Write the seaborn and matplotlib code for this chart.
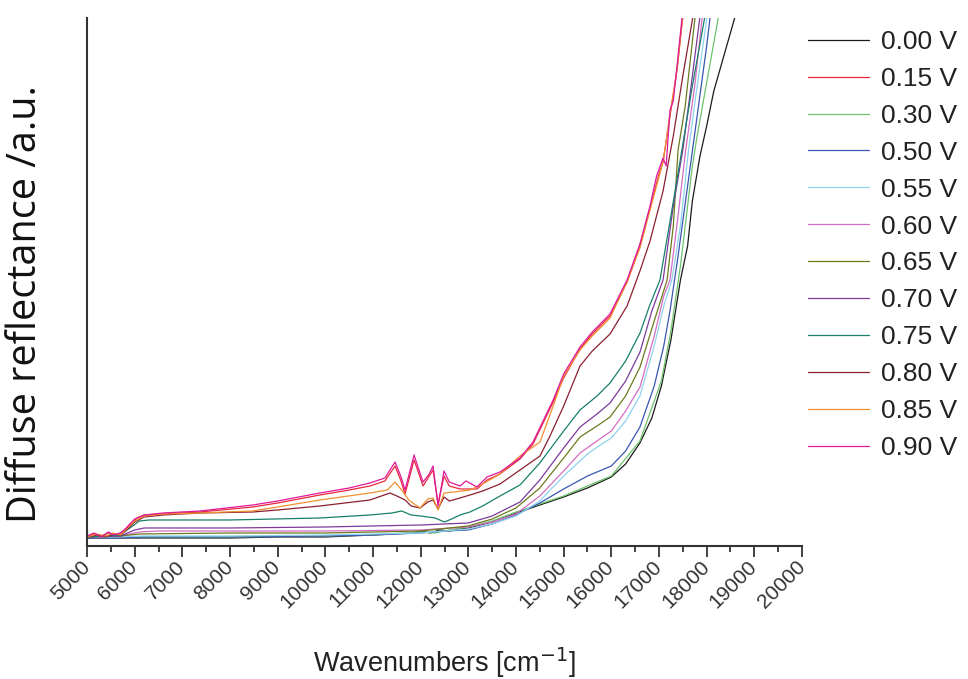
import matplotlib
matplotlib.use("Agg")
import matplotlib.pyplot as plt
import seaborn as sns
import pandas as pd
from matplotlib.ticker import MultipleLocator

# ---------------- data ----------------
labels = ["0.00 V", "0.15 V", "0.30 V", "0.50 V", "0.55 V", "0.60 V",
          "0.65 V", "0.70 V", "0.75 V", "0.80 V", "0.85 V", "0.90 V"]
colors = ["#1a1a1a", "#e8283c", "#6cc36c", "#3a56b0", "#8fd3ef", "#d46cc4",
          "#6b7a1e", "#7d3a9c", "#17806a", "#8b1f30", "#f09030", "#e0189a"]

wn_000 = [5000, 5300, 5600, 5900, 6200, 7000, 8000, 9000, 10000, 11000, 11800, 12000, 12200, 12400,
          12600, 12800, 13000, 13500, 14000, 14500, 15000, 15500, 16000, 16300, 16600, 16850, 17050,
          17250, 17450, 17600, 17700, 17860, 18000, 18150, 18300, 18450, 18600, 18700]
r_000 = [8, 8, 8, 8, 8, 8, 8, 9, 9, 11, 13, 15, 13, 16,
         15, 17, 18, 24, 33, 41, 49, 58, 69, 82, 103, 128, 160,
         206, 266, 300, 345, 390, 420, 455, 480, 505, 530, 560]

wn_015 = [5000, 5150, 5300, 5450, 5600, 5750, 5900, 6050, 6200, 6600, 7370, 8480, 9000, 9888, 10500,
          10937, 11250, 11462, 11580, 11672, 11861, 11950, 12050, 12180, 12260, 12365, 12490, 12600,
          12826, 13182, 13392, 13665, 14084, 14357, 14780, 15000, 15343, 15600, 15973, 16330, 16600,
          16812, 17000, 17085, 17231, 17378, 17483, 17580]
r_015 = [9, 12, 10, 13, 11, 14, 22, 28, 31, 32, 34, 39, 43, 51, 56,
         60, 65, 80, 66, 52, 86, 74, 60, 70, 76, 42, 70, 60,
         57, 57, 66, 72, 87, 102, 144, 168, 197, 212, 230, 264, 300,
         338, 372, 384, 430, 476, 522, 560]

wn_030 = [5000, 5600, 6200, 8000, 10000, 11000, 12000, 12300, 12600, 13000, 13500, 14000, 15000,
          16000, 16600, 17050, 17250, 17450, 17650, 17700, 17800, 17950, 18100, 18250, 18350]
r_030 = [9, 9, 9, 9, 10, 11, 14, 13, 16, 19, 25, 34, 50,
         70, 105, 165, 215, 280, 360, 380, 410, 450, 490, 530, 560]

wn_050 = [5000, 5600, 6200, 8000, 10000, 11000, 12000, 12500, 13000, 13500, 14000, 14500, 15000,
          15500, 16000, 16300, 16600, 16900, 17100, 17230, 17400, 17600, 17800, 18000, 18150]
r_050 = [8, 8, 9, 9, 10, 11, 13, 15, 16, 22, 31, 43, 57,
         70, 80, 95, 119, 160, 200, 235, 290, 360, 430, 500, 560]

wn_055 = [5000, 5600, 6200, 8000, 10000, 12000, 13000, 13500, 14000, 14500, 15000, 15500, 15800,
          16000, 16300, 16600, 16900, 17100, 17270, 17450, 17620, 17800, 18000, 18100]
r_055 = [9, 9, 10, 10, 11, 13, 17, 22, 30, 45, 70, 92, 102,
         108, 125, 150, 200, 240, 266, 320, 396, 460, 526, 560]

wn_060 = [5000, 5700, 6100, 6500, 8000, 10000, 12000, 13000, 13500, 14000, 14500, 15000, 15343,
          15700, 16000, 16300, 16602, 16900, 17100, 17231, 17400, 17560, 17750, 17900, 18000]
r_060 = [9, 10, 14, 15, 15, 15, 16, 19, 24, 32, 50, 75, 93,
         105, 115, 135, 159, 210, 250, 266, 330, 396, 460, 526, 560]

wn_065 = [5000, 5700, 6100, 8000, 10000, 12000, 13000, 13500, 14000, 14500, 15000, 15343, 15700,
          15973, 16300, 16602, 16900, 17170, 17300, 17400, 17550, 17750, 17850]
r_065 = [9, 10, 12, 13, 13, 15, 20, 27, 38, 58, 88, 109, 120,
         129, 150, 179, 225, 266, 320, 396, 440, 526, 560]

wn_070 = [5000, 5700, 6000, 6200, 8000, 10000, 11000, 12000, 12500, 13000, 13500, 14084, 14500,
          15000, 15343, 15700, 15973, 16300, 16602, 16850, 17085, 17300, 17500, 17700, 17850, 17950]
r_070 = [9, 10, 16, 18, 18, 19, 20, 21, 22, 23, 30, 44, 66,
         98, 119, 132, 143, 165, 194, 235, 266, 340, 396, 470, 526, 560]

wn_075 = [5000, 5700, 5900, 6100, 6300, 8000, 9888, 10937, 11400, 11600, 11800, 12000, 12300,
          12500, 12650, 12826, 13035, 13300, 13665, 14084, 14500, 15000, 15343, 15700, 15973, 16300,
          16602, 16800, 17020, 17250, 17480, 17700, 17950, 18050]
r_075 = [9, 11, 18, 25, 26, 26, 28, 31, 33, 35, 31, 30, 28,
         24, 27, 31, 34, 40, 50, 61, 83, 115, 136, 150, 163, 185,
         213, 240, 266, 330, 396, 460, 526, 560]

wn_080 = [5000, 5200, 5400, 5550, 5700, 5850, 6000, 6200, 6600, 7370, 8480, 9000, 9888, 10937,
          11357, 11500, 11672, 11800, 11986, 12150, 12260, 12365, 12490, 12600, 12826, 13035, 13300,
          13665, 14084, 14503, 14713, 15000, 15343, 15600, 15973, 16330, 16600, 16812, 17085, 17300,
          17500, 17700, 17800]
r_080 = [9, 11, 9, 12, 11, 17, 24, 29, 31, 33, 34, 36, 40, 46,
         53, 50, 46, 40, 38, 44, 46, 37, 49, 45, 48, 51, 55,
         62, 76, 90, 110, 140, 180, 195, 212, 240, 275, 305, 355, 410,
         470, 526, 560]

wn_085 = [5000, 5200, 5400, 5550, 5700, 5850, 6000, 6200, 6600, 7370, 8480, 9000, 9888, 10937,
          11300, 11462, 11600, 11750, 11986, 12150, 12260, 12365, 12490, 12700, 13035, 13300, 13665,
          14084, 14503, 14780, 15000, 15343, 15600, 15973, 16330, 16600, 16812, 17085, 17231, 17378,
          17483, 17600]
r_085 = [9, 12, 10, 13, 11, 18, 25, 30, 32, 33, 35, 39, 46, 53,
         56, 64, 56, 46, 38, 47, 48, 36, 53, 54, 56, 62, 72,
         90, 104, 140, 170, 196, 210, 228, 264, 298, 336, 384, 432, 476,
         524, 560]

wn_090 = [5000, 5150, 5300, 5450, 5550, 5700, 5850, 6000, 6200, 6600, 7370, 8480, 9000, 9888,
          10500, 10937, 11250, 11462, 11580, 11672, 11861, 11950, 12050, 12180, 12260, 12365, 12490,
          12600, 12826, 12950, 13182, 13392, 13665, 14084, 14357, 14780, 15000, 15343, 15600, 15973,
          16330, 16600, 16812, 16950, 17085, 17150, 17231, 17300, 17378, 17483, 17560]
r_090 = [10, 13, 9, 14, 11, 13, 19, 27, 31, 33, 35, 41, 45, 53,
         58, 63, 68, 84, 70, 56, 91, 78, 64, 72, 80, 40, 75,
         64, 60, 65, 59, 69, 74, 88, 104, 146, 172, 199, 214, 232,
         266, 302, 340, 370, 388, 380, 436, 445, 480, 528, 560]

wn_list = [wn_000, wn_015, wn_030, wn_050, wn_055, wn_060, wn_065, wn_070, wn_075, wn_080, wn_085, wn_090]
r_list = [r_000, r_015, r_030, r_050, r_055, r_060, r_065, r_070, r_075, r_080, r_085, r_090]

xticks = list(range(5000, 20001, 1000))

# ---------------- plotting ----------------
sns.set_style("ticks")
plt.rcParams["font.family"] = ["Liberation Sans", "DejaVu Sans"]

fig = plt.figure(figsize=(9.68, 6.79), dpi=100)
ax = fig.add_axes([0.0899, 0.1959, 0.8285 - 0.0899, 0.9735 - 0.1959])

for lab, col, wn, r in zip(labels, colors, wn_list, r_list):
    df = pd.DataFrame({"wn": wn, "R": r})
    sns.lineplot(data=df, x="wn", y="R", ax=ax, color=col, linewidth=0.9,
                 label=lab, estimator=None, sort=False)

ax.set_xlim(5000, 20000)
ax.set_ylim(0, 528)
ax.set_xticks(xticks)
ax.set_xticklabels([str(t) for t in xticks], rotation=45, ha="right",
                   rotation_mode="anchor", va="center", fontsize=15, color="#333333")
ax.xaxis.set_minor_locator(MultipleLocator(500))
ax.tick_params(axis="x", which="major", length=8, width=1.2, color="#222222", pad=5)
ax.tick_params(axis="x", which="minor", length=4, width=1.2, color="#222222")
ax.set_yticks([])

sns.despine(ax=ax, top=True, right=True)
for s in ("left", "bottom"):
    ax.spines[s].set_linewidth(1.5)
    ax.spines[s].set_color("#333333")

ax.set_xlabel("Wavenumbers [cm$^{-1}$]", fontsize=19.5, color="#222222", labelpad=24)
ax.set_ylabel("Diffuse reflectance /a.u.", fontsize=28.5, color="#111111",
              family=["Open Sans", "DejaVu Sans"])
ax.yaxis.set_label_coords(-0.057, 0.458)

leg = ax.legend(loc="upper left", bbox_to_anchor=(0.835, 0.956),
                bbox_transform=fig.transFigure, frameon=False, fontsize=19,
                handlelength=2.3, handletextpad=0.45, labelspacing=0.49,
                borderpad=0, borderaxespad=0)
for t in leg.get_texts():
    t.set_color("#222222")

fig.savefig("out.png", dpi=100)
